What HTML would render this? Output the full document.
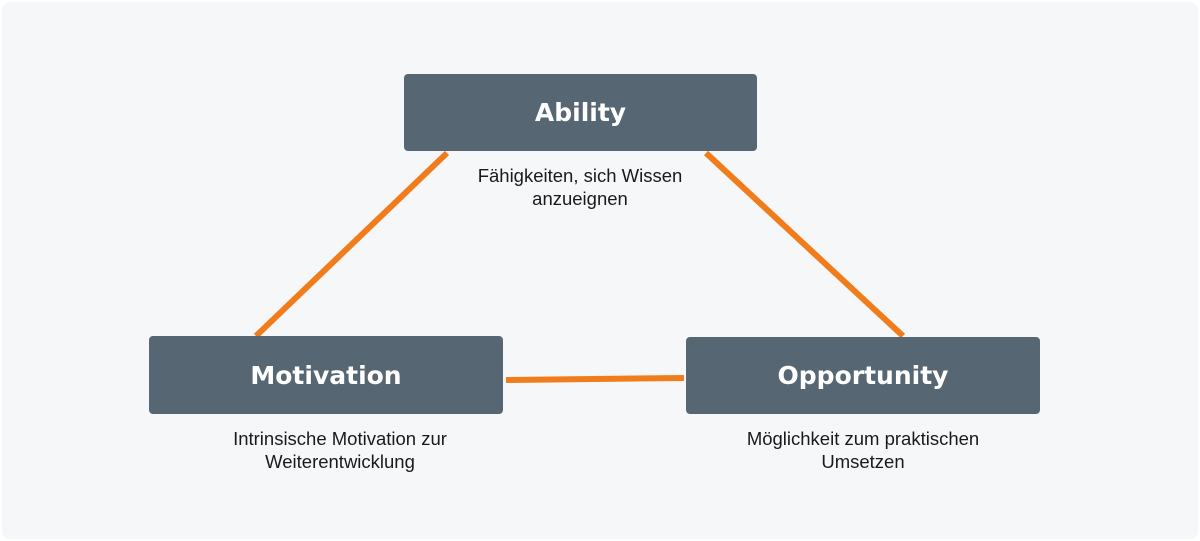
<!DOCTYPE html>
<html><head><meta charset="utf-8"><style>
html,body{margin:0;padding:0;background:#fff;}
#c{position:relative;width:1200px;height:541px;overflow:hidden;}
.bg{position:absolute;left:2px;top:2px;width:1196px;height:537px;background:#f6f7f9;border-radius:8px;}
.box{position:absolute;background:#566773;border-radius:4px;color:#fff;font-family:"DejaVu Sans","Liberation Sans",sans-serif;font-size:25px;font-weight:bold;display:flex;align-items:center;justify-content:center;}
.t{position:absolute;font-family:"Liberation Sans",sans-serif;font-size:18.5px;color:#1a1a1a;text-align:center;line-height:23px;}
</style></head><body><div id="c">
<div class="bg"></div>
<svg style="position:absolute;left:0;top:0" width="1200" height="541">
<g stroke="#f07c1c" stroke-width="6">
<line x1="447" y1="153" x2="256" y2="336"/>
<line x1="706" y1="153" x2="903" y2="336"/>
<line x1="506" y1="380" x2="684" y2="378"/>
</g></svg>
<div class="box" style="left:404px;top:74px;width:353px;height:77px;">Ability</div>
<div class="box" style="left:149px;top:336px;width:354px;height:78px;">Motivation</div>
<div class="box" style="left:686px;top:337px;width:354px;height:77px;">Opportunity</div>
<div class="t" style="left:425px;top:164px;width:310px;">Fähigkeiten, sich Wissen<br>anzueignen</div>
<div class="t" style="left:185px;top:427px;width:310px;">Intrinsische Motivation zur<br>Weiterentwicklung</div>
<div class="t" style="left:708px;top:427px;width:310px;">Möglichkeit zum praktischen<br>Umsetzen</div>
</div></body></html>
